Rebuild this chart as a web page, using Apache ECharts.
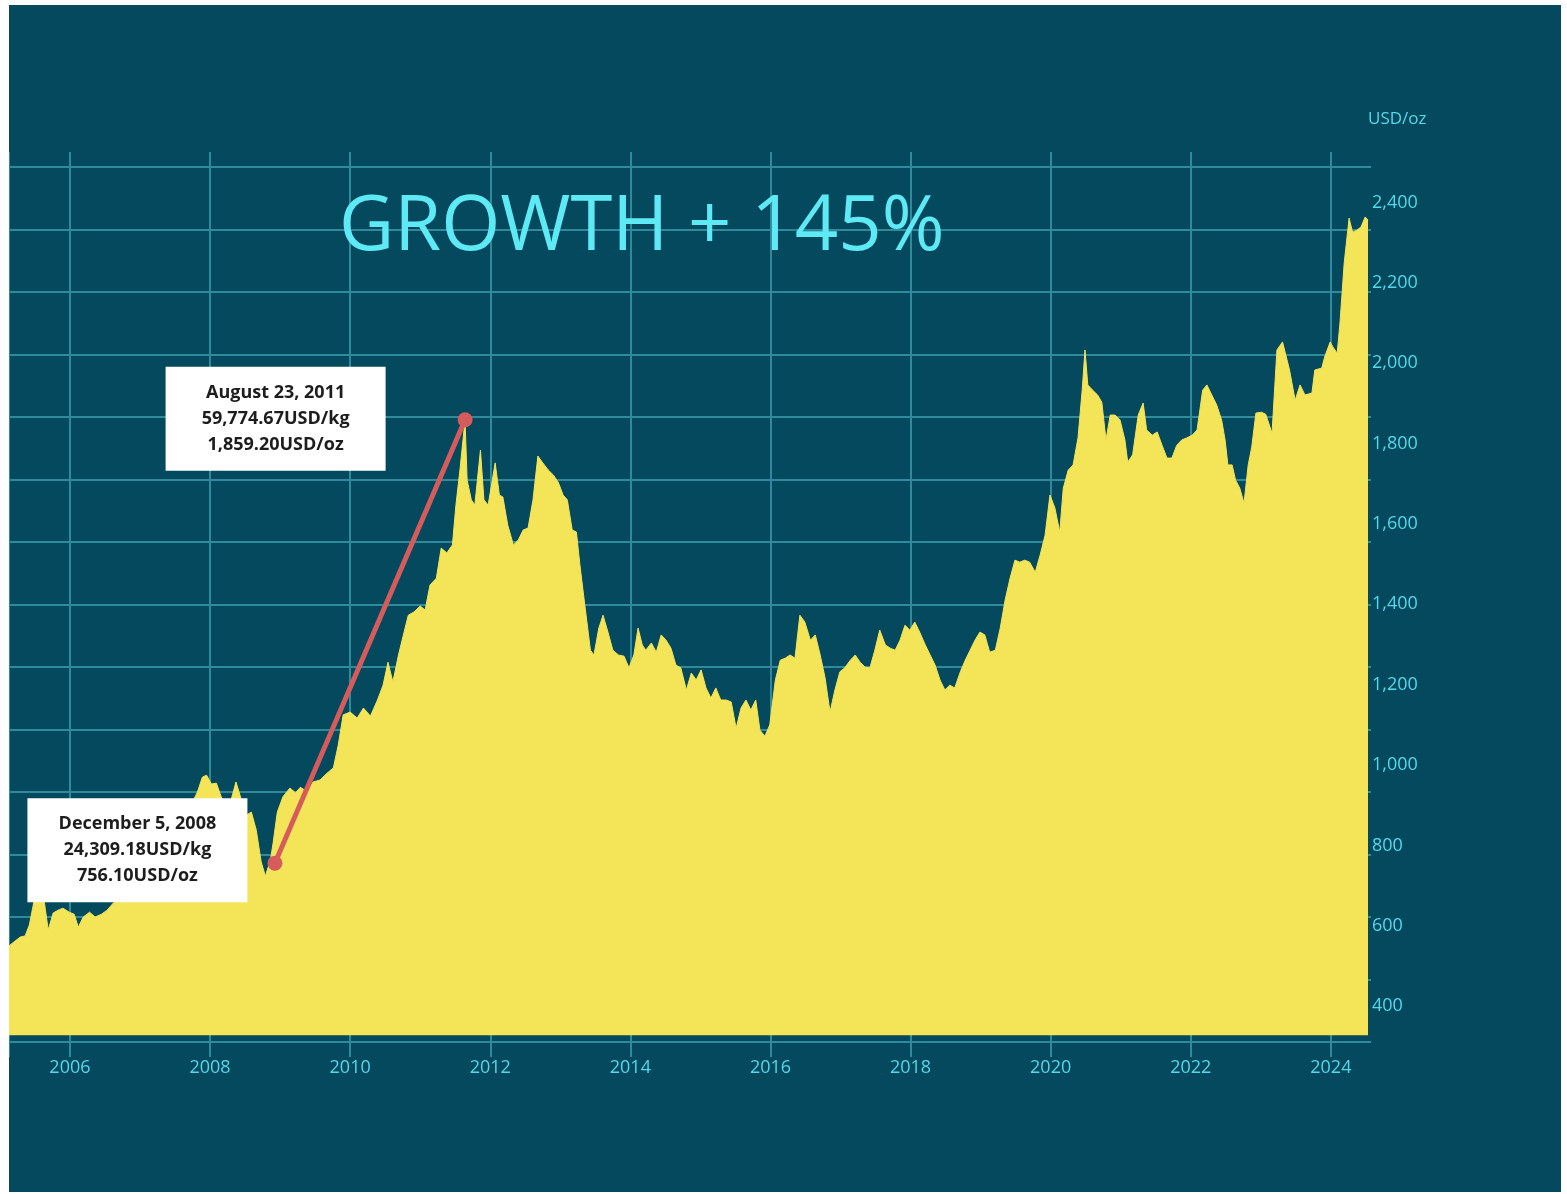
<!DOCTYPE html>
<html>
<head>
<meta charset="utf-8">
<script src="https://cdn.jsdelivr.net/npm/echarts@6/dist/echarts.min.js"></script>
<style>
  html, body { margin: 0; padding: 0; background: #ffffff; }
  #chart { position: absolute; left: 9px; top: 5px; width: 1552px; height: 1187px; background: #04495e; }
</style>
</head>
<body>
<div id="chart"></div>
<script>
// Gold price, USD per troy ounce (decimal year, price)
const years = [
  2005.13, 2005.20, 2005.29, 2005.36, 2005.42, 2005.49, 2005.55, 2005.62, 2005.69, 2005.76, 2005.83, 2005.90, 2005.99,
  2006.06, 2006.12, 2006.19, 2006.28, 2006.36, 2006.45, 2006.53, 2006.62, 2006.72, 2006.83, 2006.95,
  2007.06, 2007.17, 2007.29, 2007.40, 2007.52, 2007.63, 2007.73, 2007.82, 2007.89, 2007.95,
  2008.02, 2008.09, 2008.16, 2008.23, 2008.30, 2008.37, 2008.44, 2008.52, 2008.59, 2008.66, 2008.73, 2008.79, 2008.86, 2008.90, 2008.96,
  2009.04, 2009.14, 2009.22, 2009.29, 2009.39, 2009.47, 2009.57, 2009.67, 2009.76, 2009.83, 2009.90,
  2010.00, 2010.10, 2010.19, 2010.29, 2010.39, 2010.47, 2010.54, 2010.61, 2010.69, 2010.76, 2010.83, 2010.91,
  2011.00, 2011.07, 2011.14, 2011.23, 2011.30, 2011.38, 2011.46, 2011.51, 2011.57, 2011.64, 2011.67, 2011.73, 2011.78, 2011.86, 2011.91, 2011.97,
  2012.07, 2012.13, 2012.18, 2012.25, 2012.33, 2012.40, 2012.47, 2012.54, 2012.61, 2012.68, 2012.75, 2012.83, 2012.90, 2012.97,
  2013.04, 2013.10, 2013.17, 2013.23, 2013.28, 2013.35, 2013.43, 2013.48, 2013.55, 2013.61, 2013.68, 2013.75, 2013.83, 2013.91, 2013.98,
  2014.05, 2014.11, 2014.17, 2014.22, 2014.30, 2014.37, 2014.44, 2014.51, 2014.58, 2014.65, 2014.72, 2014.80, 2014.87, 2014.94,
  2015.01, 2015.08, 2015.15, 2015.22, 2015.29, 2015.37, 2015.44, 2015.51, 2015.58, 2015.65, 2015.72, 2015.79, 2015.85, 2015.92, 2015.99,
  2016.07, 2016.14, 2016.21, 2016.28, 2016.35, 2016.42, 2016.49, 2016.57, 2016.64, 2016.71, 2016.78, 2016.85, 2016.92, 2016.99,
  2017.06, 2017.14, 2017.21, 2017.28, 2017.35, 2017.42, 2017.49, 2017.56, 2017.64, 2017.71, 2017.78, 2017.85, 2017.92, 2017.99,
  2018.06, 2018.13, 2018.21, 2018.28, 2018.35, 2018.42, 2018.49, 2018.56, 2018.63, 2018.71, 2018.78, 2018.85, 2018.92, 2018.99,
  2019.06, 2019.13, 2019.21, 2019.28, 2019.35, 2019.42, 2019.49, 2019.56, 2019.63, 2019.70, 2019.78, 2019.85, 2019.92, 2019.99,
  2020.06, 2020.13, 2020.18, 2020.25, 2020.32, 2020.39, 2020.45, 2020.49, 2020.53, 2020.60, 2020.67, 2020.73, 2020.79, 2020.85, 2020.92, 2020.99,
  2021.06, 2021.10, 2021.17, 2021.25, 2021.32, 2021.37, 2021.45, 2021.52, 2021.59, 2021.66, 2021.73, 2021.80, 2021.87, 2021.94,
  2022.02, 2022.09, 2022.17, 2022.23, 2022.30, 2022.37, 2022.44, 2022.49, 2022.53, 2022.59, 2022.64, 2022.70, 2022.76, 2022.82, 2022.87, 2022.93,
  2023.01, 2023.07, 2023.16, 2023.23, 2023.31, 2023.41, 2023.49, 2023.56, 2023.63, 2023.73, 2023.77, 2023.87, 2023.91, 2023.99,
  2024.03, 2024.09, 2024.13, 2024.19, 2024.26, 2024.31, 2024.37, 2024.43, 2024.49, 2024.53
];
const prices = [
  550, 560, 572, 575, 602, 664, 722, 677, 590, 632, 639, 644, 634,
  629, 597, 622, 634, 622, 629, 639, 657, 669, 677, 689,
  709, 734, 764, 794, 826, 868, 901, 933, 970, 975,
  953, 955, 921, 893, 913, 958, 918, 876, 883, 838, 759, 724, 762, 806, 883,
  921, 943, 931, 945, 933, 958, 963, 980, 993, 1050, 1125,
  1132, 1117, 1142, 1122, 1162, 1199, 1256, 1207, 1274, 1324, 1373, 1381,
  1396, 1386, 1448, 1465, 1540, 1528, 1548, 1647, 1739, 1859, 1709, 1660, 1647, 1784, 1660, 1647,
  1752, 1672, 1667, 1597, 1548, 1560, 1585, 1590, 1660, 1769, 1752, 1734, 1722, 1704,
  1672, 1660, 1585, 1580, 1498, 1398, 1286, 1274, 1341, 1373, 1331, 1286, 1274, 1271, 1242,
  1274, 1341, 1299, 1286, 1304, 1281, 1324, 1311, 1291, 1249, 1242, 1187, 1229, 1212,
  1237, 1192, 1167, 1192, 1162, 1162, 1157, 1092, 1142, 1162, 1137, 1162, 1087, 1072, 1100,
  1212, 1261, 1266, 1274, 1266, 1373, 1356, 1311, 1324, 1274, 1217, 1132, 1187, 1232,
  1242, 1261, 1274, 1256, 1244, 1242, 1286, 1336, 1299, 1291, 1286, 1311, 1348, 1336,
  1356, 1331, 1299, 1274, 1249, 1212, 1187, 1199, 1192, 1232, 1261, 1286, 1311, 1331,
  1324, 1281, 1286, 1341, 1411, 1465, 1510, 1505, 1510, 1505, 1480, 1523, 1572, 1672,
  1640, 1580, 1689, 1734, 1747, 1814, 1933, 2033, 1946, 1933, 1921, 1903, 1809, 1871, 1871, 1859,
  1809, 1754, 1772, 1871, 1901, 1834, 1821, 1829, 1796, 1764, 1764, 1796, 1809, 1814,
  1821, 1834, 1933, 1946, 1921, 1896, 1859, 1809, 1747, 1747, 1709, 1689, 1652, 1747, 1791, 1876,
  1878, 1873, 1826, 2033, 2053, 1983, 1908, 1946, 1921, 1926, 1983, 1988, 2015, 2053,
  2040, 2025, 2100, 2249, 2361, 2326, 2331, 2339, 2364, 2356
];

// Axis tick labels
const yearTicks = [2006, 2008, 2010, 2012, 2014, 2016, 2018, 2020, 2022, 2024];
const priceTicks = [400, 600, 800, 1000, 1200, 1400, 1600, 1800, 2000, 2200, 2400];
// Gridline positions in USD/kg
const kgTicks = [10000, 15000, 20000, 25000, 30000, 35000, 40000, 45000, 50000, 55000, 60000, 65000, 70000, 75000, 80000];

// Low and high marked on the chart
const noteDates = ['December 5, 2008', 'August 23, 2011'];
const noteYears = [2008.926, 2011.641];
const notePricesOz = [756.10, 1859.20];
const notePricesKg = [24309.18, 59774.67];

const headline = 'GROWTH + 145%';

// Gridlines follow the USD/kg scale; labels are USD/oz
const OZ_PER_KG = 32.1507466;
const KG_MIN = 10000, KG_MAX = 81200;
const X_MIN = 2005.13, X_MAX = 2024.53;

const GRID_COLOR = '#2f8a9c';
const LABEL_COLOR = '#55d8e8';
const GOLD = '#f4e458';
const RED = '#d65c5c';
const FONT = '"Open Sans", "Noto Sans", sans-serif';

const fmt2 = v => v.toLocaleString('en-US', { minimumFractionDigits: 2, maximumFractionDigits: 2 });

const chart = echarts.init(document.getElementById('chart'), null, { renderer: 'canvas' });

const noteLabelPlacement = [
  { distance: 20, offset: [0, -13] },
  { distance: 72, offset: [0, -1] }
];

chart.setOption({
  animation: false,
  backgroundColor: '#04495e',
  title: {
    text: headline,
    left: 325,
    top: 180,
    textStyle: { color: '#5eeaf4', fontFamily: FONT, fontSize: 76, fontWeight: 'normal' }
  },
  grid: { left: 0, top: 147, width: 1359, height: 890 },
  xAxis: {
    type: 'value',
    min: X_MIN,
    max: X_MAX,
    axisLine: { show: true, lineStyle: { color: GRID_COLOR, width: 2 } },
    axisTick: {
      show: true, length: 15, customValues: [X_MIN].concat(yearTicks),
      lineStyle: { color: GRID_COLOR, width: 2 }
    },
    axisLabel: {
      customValues: yearTicks, margin: 17,
      color: LABEL_COLOR, fontFamily: FONT, fontSize: 18,
      formatter: v => String(Math.round(v))
    },
    splitLine: { show: true, lineStyle: { color: GRID_COLOR, width: 2 } }
  },
  yAxis: [
    {
      type: 'value',
      position: 'right',
      min: KG_MIN / OZ_PER_KG,
      max: KG_MAX / OZ_PER_KG,
      name: 'USD/oz',
      nameLocation: 'end',
      nameGap: 24,
      nameTextStyle: { color: LABEL_COLOR, fontFamily: FONT, fontSize: 17, align: 'left' },
      axisLine: { show: false },
      axisTick: { show: false },
      splitLine: { show: false },
      axisLabel: {
        customValues: priceTicks, margin: 4,
        color: LABEL_COLOR, fontFamily: FONT, fontSize: 18,
        formatter: v => Math.round(v).toLocaleString('en-US')
      }
    },
    {
      type: 'value',
      position: 'right',
      min: KG_MIN,
      max: KG_MAX,
      axisLine: { show: false },
      axisLabel: { show: false },
      axisTick: { show: true, length: 3, customValues: kgTicks, lineStyle: { color: GRID_COLOR, width: 2 } },
      splitLine: { show: true, lineStyle: { color: GRID_COLOR, width: 2 } }
    }
  ],
  series: [
    {
      name: 'Gold',
      type: 'line',
      yAxisIndex: 0,
      data: years.map((y, i) => [y, prices[i]]),
      showSymbol: false,
      silent: true,
      lineStyle: { color: GOLD, width: 1 },
      areaStyle: { color: GOLD, opacity: 1, origin: 328 },
      z: 2
    },
    {
      name: 'Low to high',
      type: 'line',
      yAxisIndex: 0,
      silent: true,
      symbol: 'circle',
      symbolSize: 15,
      showSymbol: true,
      itemStyle: { color: RED },
      lineStyle: { color: RED, width: 5 },
      z: 5,
      data: noteYears.map((y, i) => ({
        value: [y, notePricesOz[i]],
        label: {
          show: true,
          position: 'left',
          distance: noteLabelPlacement[i].distance,
          offset: noteLabelPlacement[i].offset,
          backgroundColor: '#ffffff',
          padding: [13, 20],
          formatter: () =>
            '{t|' + noteDates[i] + '}\n{t|' + fmt2(notePricesKg[i]) + 'USD/kg}\n{t|' + fmt2(notePricesOz[i]) + 'USD/oz}',
          rich: {
            t: {
              width: 180, align: 'center', lineHeight: 26,
              fontFamily: FONT, fontSize: 18, fontWeight: 'bold', color: '#1d1d1d'
            }
          }
        }
      }))
    }
  ]
});
</script>
</body>
</html>
